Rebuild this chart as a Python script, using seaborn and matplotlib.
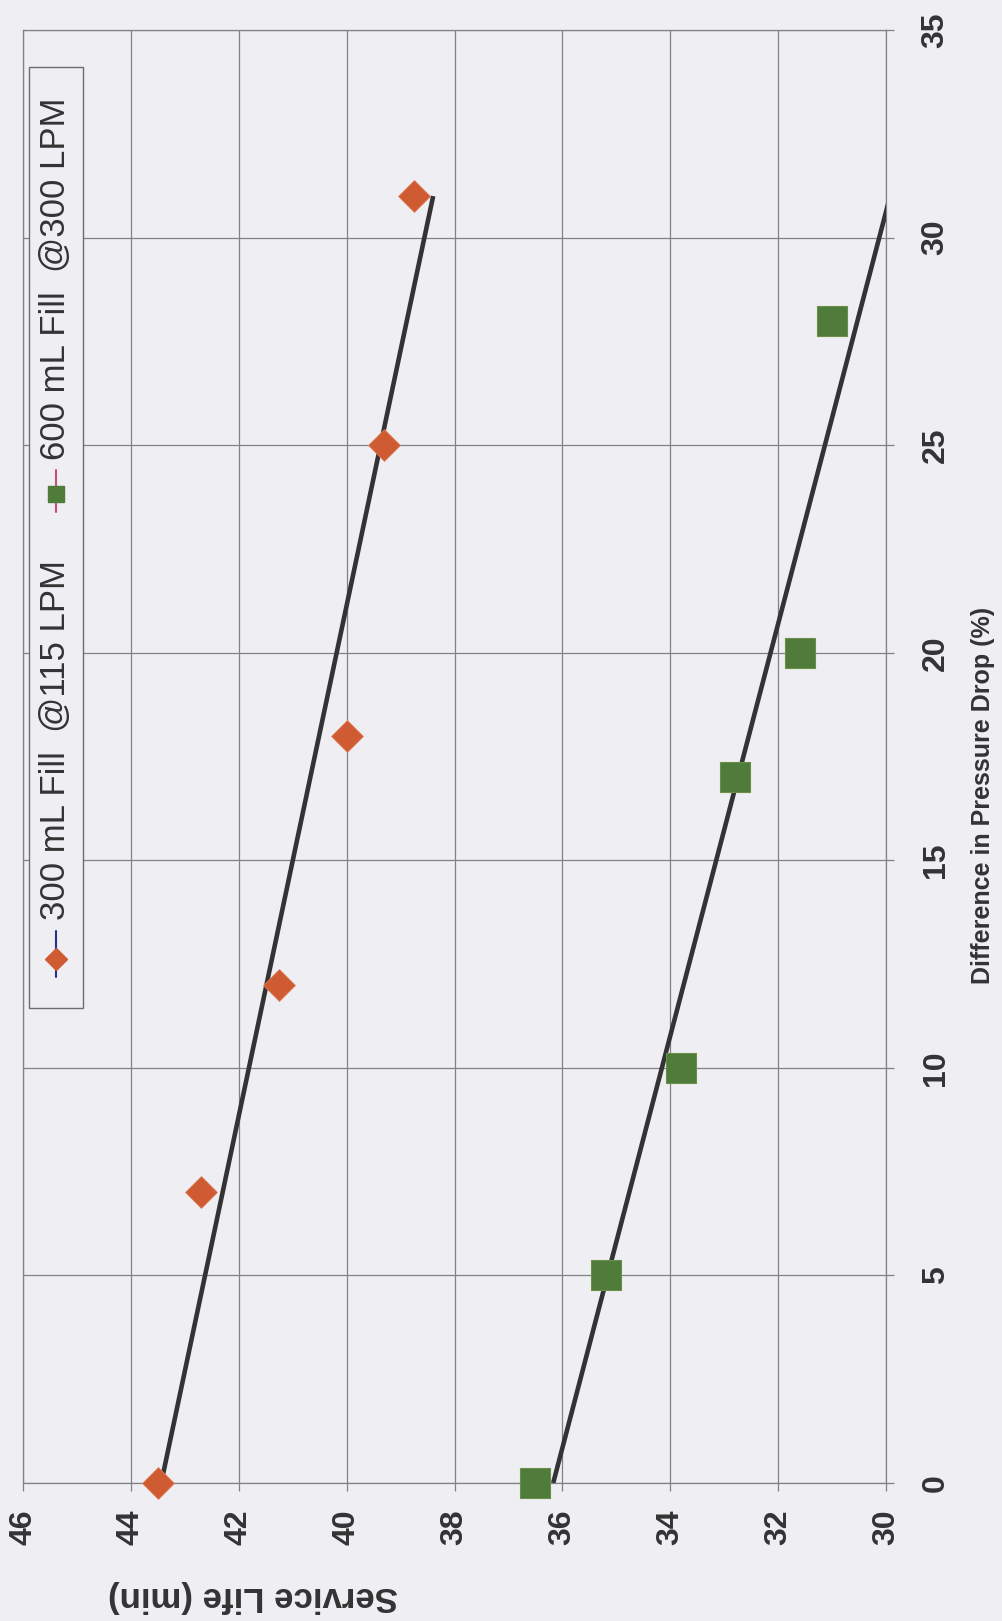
import numpy as np
import pandas as pd
import seaborn as sns
import matplotlib.pyplot as plt
from matplotlib.patches import Rectangle
from matplotlib.lines import Line2D

# Pressure-drop difference (%) and service life (min) for the two fill conditions
pressure_300 = [0, 7, 12, 18, 25, 31]
life_300 = [43.5, 42.7, 41.25, 40.0, 39.3, 38.75]
pressure_600 = [0, 5, 10, 17, 20, 28]
life_600 = [36.5, 35.2, 33.8, 32.8, 31.6, 31.0]

series_labels = ["300 mL Fill  @115 LPM", "600 mL Fill  @300 LPM"]
life_ticks = [46, 44, 42, 40, 38, 36, 34, 32, 30]
pressure_ticks = [0, 5, 10, 15, 20, 25, 30, 35]

BG = "#eeeef3"
GRID = "#808085"
TXT = "#333333"
ORANGE = "#cf5b32"
GREEN = "#4f7b3b"

sns.set_theme(style="white")
plt.rcParams["font.family"] = ["Liberation Sans", "DejaVu Sans"]

W, H = 1002, 1621
fig = plt.figure(figsize=(W / 100, H / 100), dpi=100, facecolor=BG)
left, right, top, bottom = 23, 886, 30, 1483
ax = fig.add_axes([left / W, 1 - bottom / H, (right - left) / W, (bottom - top) / H])
ax.set_facecolor(BG)

df = pd.DataFrame({
    "life": life_300 + life_600,
    "pressure": pressure_300 + pressure_600,
    "series": [series_labels[0]] * len(life_300) + [series_labels[1]] * len(life_600),
})

# Linear trend lines (service life as a function of pressure drop)
p_line = np.array([0, 31])
for p, l in [(pressure_300, life_300), (pressure_600, life_600)]:
    slope, icpt = np.polyfit(p, l, 1)
    ax.plot(icpt + slope * p_line, p_line, color="#333333", lw=3.3, zorder=3,
            solid_capstyle="butt")

sns.scatterplot(data=df[df.series == series_labels[0]], x="life", y="pressure",
                marker="D", s=262, color=ORANGE, edgecolor="#e07a55", linewidth=0.6,
                ax=ax, zorder=4, legend=False, clip_on=False)
sns.scatterplot(data=df[df.series == series_labels[1]], x="life", y="pressure",
                marker="s", s=450, color=GREEN, edgecolor="#6a8f45", linewidth=0.8,
                ax=ax, zorder=4, legend=False, clip_on=False)

ax.set_xlim(46, 30)
ax.set_ylim(0, 35)
ax.set_xticks(life_ticks)
ax.set_yticks(pressure_ticks)
ax.grid(True, color=GRID, lw=0.9)
ax.set_axisbelow(True)
for s in ax.spines.values():
    s.set_color(GRID)
    s.set_linewidth(0.9)

ax.yaxis.tick_right()
ax.yaxis.set_label_position("right")
ax.tick_params(axis="x", direction="out", length=6, width=0.9, color=GRID,
               pad=13, labelsize=23, labelcolor=TXT, bottom=True)
ax.tick_params(axis="y", direction="out", length=6, width=0.9, color=GRID,
               pad=19, labelsize=23, labelcolor=TXT, right=True, left=False)
for t in ax.get_xticklabels():
    t.set_rotation(90)
    t.set_fontweight("bold")
    t.set_va("top")
for t in ax.get_yticklabels():
    t.set_rotation(90)
    t.set_fontweight("bold")
    t.set_va("center")

ax.set_xlabel("Service Life (min)", fontsize=25, fontweight="bold", color=TXT,
              rotation=180, va="center", ha="center")
ax.xaxis.set_label_coords(0.2665, -0.078)
ax.set_ylabel("Difference in Pressure Drop (%)", fontsize=18, fontweight="bold",
              color=TXT, rotation=90, va="center", ha="center")
ax.yaxis.set_label_coords(1.112, 0.473)


def fx(x):
    return x / W


def fy(y):
    return 1 - y / H


# Legend box with vertical entries
fig.patches.append(Rectangle((fx(29), fy(1008)), fx(83) - fx(29), fy(67) - fy(1008),
                             transform=fig.transFigure, facecolor=BG,
                             edgecolor="#6d6d70", lw=1.0, zorder=5))
entries = [
    (series_labels[0], "#2b2f86", ORANGE, "D", 11, 977, 931, 959, 920),
    (series_labels[1], "#c4507a", GREEN, "s", 12, 512, 470, 494, 460),
]
for label, lc, mc, mk, ms, y0, y1, ym, yt in entries:
    fig.add_artist(Line2D([fx(56), fx(56)], [fy(y0), fy(y1)], color=lc, lw=1.5,
                          transform=fig.transFigure, zorder=6))
    fig.add_artist(Line2D([fx(56)], [fy(ym)], marker=mk, ms=ms, color=mc, mec=mc,
                          lw=0, transform=fig.transFigure, zorder=7))
    fig.text(fx(56), fy(yt), label, rotation=90, ha="center", va="bottom",
             fontsize=25, color=TXT, zorder=7)

fig.savefig("out.png", dpi=100, facecolor=BG)
